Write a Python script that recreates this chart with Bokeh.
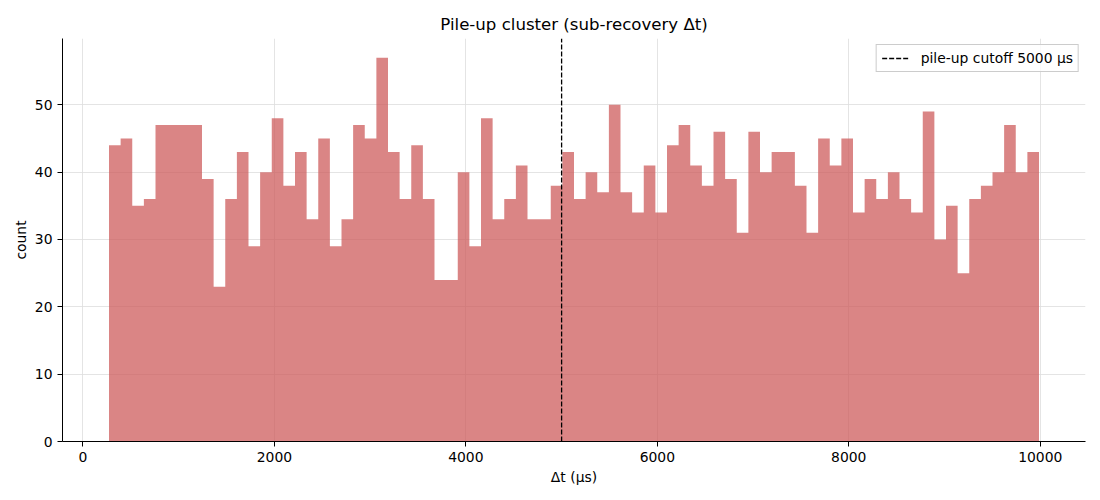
import numpy as np
from bokeh.plotting import figure
from bokeh.models import Range1d, Legend, LegendItem, ColumnDataSource
from bokeh.embed import file_html
from bokeh.resources import INLINE

# histogram data
bin_lo = 272.0
bin_hi = 9987.0
counts = [44, 45, 35, 36, 47, 47, 47, 47, 39, 23,
          36, 43, 29, 40, 48, 38, 43, 33, 45, 29,
          33, 47, 45, 57, 43, 36, 44, 36, 24, 24,
          40, 29, 48, 33, 36, 41, 33, 33, 38, 43,
          36, 40, 37, 50, 37, 34, 41, 34, 44, 47,
          41, 38, 46, 39, 31, 46, 40, 43, 43, 38,
          31, 45, 41, 45, 34, 39, 36, 40, 36, 34,
          49, 30, 35, 25, 36, 38, 40, 47, 40, 43]
cutoff = 5000
x_ticks = [0, 2000, 4000, 6000, 8000, 10000]
y_ticks = [0, 10, 20, 30, 40, 50]

edges = np.linspace(bin_lo, bin_hi, len(counts) + 1)
y_top = max(counts) * 1.05
src = ColumnDataSource(dict(x=edges, y1=np.zeros(len(edges)),
                            y2=list(counts) + [counts[-1]]))

FONT = "DejaVu Sans"
TS = "13.9px"
span_x = bin_hi - bin_lo
p = figure(width=1092, height=492, output_backend="svg", toolbar_location=None,
           x_range=Range1d(bin_lo - 0.05 * span_x, bin_hi + 0.05 * span_x),
           y_range=Range1d(0, y_top),
           min_border_left=62, min_border_right=7, min_border_top=38,
           min_border_bottom=51)

p.varea_step(x="x", y1="y1", y2="y2", source=src, step_mode="after",
             fill_color="indianred", fill_alpha=0.75)

cut_r = p.line(x=[cutoff, cutoff], y=[0, y_top], line_color="black",
               line_dash="5 2", line_width=1.3)
legend = Legend(items=[LegendItem(label=f"pile-up cutoff {cutoff} µs", renderers=[cut_r])],
                location="top_right", label_text_font=FONT, label_text_font_size=TS,
                label_text_color="black",
                border_line_color="#cccccc", border_line_alpha=1.0,
                background_fill_alpha=0.8, glyph_width=28, glyph_height=14,
                label_height=14, label_standoff=11,
                padding=5, margin=6, spacing=0)
p.add_layout(legend)

p.title.text = "Pile-up cluster (sub-recovery Δt)"
p.title.align = "center"
p.title.text_font = FONT
p.title.text_font_size = "16.6px"
p.title.text_font_style = "normal"
p.title.text_color = "black"
p.title.offset = 0

p.outline_line_color = None
for ax in (p.xaxis, p.yaxis):
    ax.axis_label_text_font = FONT
    ax.axis_label_text_font_size = TS
    ax.axis_label_text_font_style = "normal"
    ax.axis_label_text_color = "black"
    ax.major_label_text_font = FONT
    ax.major_label_text_font_size = TS
    ax.major_label_text_color = "black"
    ax.minor_tick_line_color = None
    ax.major_tick_out = 5
    ax.major_tick_in = 0
    ax.axis_line_color = "black"
    ax.major_tick_line_color = "black"
p.xaxis.axis_label = "Δt (µs)"
p.yaxis.axis_label = "count"
p.xaxis.ticker = x_ticks
p.yaxis.ticker = y_ticks
p.xaxis.axis_label_standoff = 4
p.yaxis.axis_label_standoff = 3
p.yaxis.major_label_orientation = "horizontal"

p.xgrid.grid_line_color = "#dddddd"
p.ygrid.grid_line_color = "#dddddd"
p.xgrid.grid_line_alpha = 0.8
p.ygrid.grid_line_alpha = 0.8
p.xgrid.ticker = x_ticks
p.ygrid.ticker = y_ticks

open("out.html", "w").write(file_html(p, INLINE))
